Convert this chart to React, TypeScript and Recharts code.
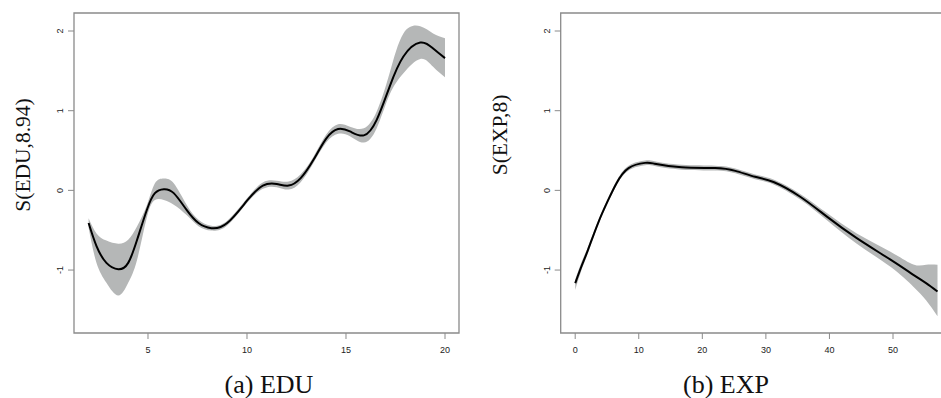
import React from 'react';
import { ComposedChart, Area, Line, XAxis, YAxis, ReferenceArea } from 'recharts';

// (a) EDU smooth term with its confidence band
const eduX = [2, 2.4, 2.9, 3.5, 4.0, 4.45, 4.95, 5.35, 5.8, 6.3, 6.95, 7.55, 8.2, 9.0, 10.0, 10.8, 11.5, 12.1, 12.7, 13.35, 14.0, 14.6, 15.2, 15.9, 16.55, 17.2, 17.9, 18.75, 19.4, 20];
const eduFit = [-0.41, -0.7, -0.91, -0.99, -0.91, -0.62, -0.24, -0.035, 0.015, -0.035, -0.245, -0.41, -0.475, -0.41, -0.13, 0.06, 0.08, 0.06, 0.15, 0.38, 0.65, 0.77, 0.74, 0.69, 0.885, 1.3, 1.68, 1.855, 1.78, 1.66];
const eduLo = [-0.47, -0.91, -1.16, -1.32, -1.16, -0.87, -0.33, -0.12, -0.12, -0.18, -0.31, -0.45, -0.505, -0.44, -0.16, 0.02, 0.04, 0.01, 0.1, 0.34, 0.6, 0.71, 0.68, 0.6, 0.78, 1.2, 1.47, 1.65, 1.55, 1.42];
const eduHi = [-0.35, -0.54, -0.63, -0.67, -0.62, -0.45, -0.18, 0.09, 0.15, 0.09, -0.18, -0.37, -0.445, -0.38, -0.1, 0.1, 0.12, 0.11, 0.2, 0.42, 0.7, 0.83, 0.8, 0.78, 0.99, 1.47, 1.97, 2.06, 1.97, 1.91];

// (b) EXP smooth term with its confidence band
const expX = [0, 1, 2, 3.6, 5.2, 6.5, 8.4, 11, 12.5, 16.75, 22, 25.2, 28.3, 31.2, 35.4, 39.6, 44.3, 49.6, 53.2, 55.2, 57];
const expFit = [-1.165, -0.95, -0.75, -0.41, -0.12, 0.09, 0.28, 0.345, 0.335, 0.29, 0.28, 0.245, 0.17, 0.105, -0.08, -0.33, -0.6, -0.87, -1.06, -1.165, -1.27];
const expLo = [-1.25, -1.0, -0.79, -0.44, -0.15, 0.06, 0.25, 0.315, 0.305, 0.26, 0.25, 0.215, 0.14, 0.075, -0.115, -0.375, -0.67, -0.96, -1.21, -1.38, -1.58];
const expHi = [-1.12, -0.9, -0.71, -0.38, -0.09, 0.12, 0.31, 0.375, 0.365, 0.32, 0.31, 0.275, 0.2, 0.135, -0.045, -0.285, -0.54, -0.77, -0.93, -0.935, -0.935];

const eduTicks = [5, 10, 15, 20];
const expTicks = [0, 10, 20, 30, 40, 50];
const yTicks = [-1, 0, 1, 2];
const Y_DOMAIN: [number, number] = [-1.79, 2.226];

const BOX = '#8a8a8a';
const BAND = '#b5b7b7';
const SANS = '"Liberation Sans", Arial, sans-serif';
const SERIF = '"Liberation Serif", "Times New Roman", serif';

function buildRows(xs: number[], fit: number[], lo: number[], hi: number[]) {
  return xs.map((x, i) => ({ x, fit: fit[i], band: [lo[i], hi[i]] }));
}

function YTick(props: any) {
  const { x, y, payload } = props;
  const bx = x - 3;
  return (
    <text x={bx} y={y} transform={`rotate(-90 ${bx} ${y})`} textAnchor="middle"
      fontSize={9} fontFamily={SANS} fill="#222">
      {payload.value}
    </text>
  );
}

interface PanelProps {
  left: number;
  width: number;
  marginLeft: number;
  marginRight: number;
  xDomain: [number, number];
  xTicks: number[];
  rows: { x: number; fit: number; band: number[] }[];
}

function Panel({ left, width, marginLeft, marginRight, xDomain, xTicks, rows }: PanelProps) {
  return (
    <div style={{ position: 'absolute', left, top: 0 }}>
      <ComposedChart width={width} height={398} data={rows}
        margin={{ top: 13, right: marginRight, bottom: 35, left: marginLeft }}>
        <XAxis type="number" dataKey="x" domain={xDomain} ticks={xTicks} allowDataOverflow
          height={30} tickSize={6} tickMargin={8} axisLine={false}
          tickLine={{ stroke: BOX }} tick={{ fontSize: 9, fontFamily: SANS, fill: '#222' }} />
        <YAxis type="number" domain={Y_DOMAIN} ticks={yTicks} allowDataOverflow width={20}
          tickSize={6} axisLine={false} tickLine={{ stroke: BOX }} tick={<YTick />} />
        <Area type="natural" dataKey="band" fill={BAND} fillOpacity={1} stroke="none"
          isAnimationActive={false} />
        <Line type="natural" dataKey="fit" stroke="#000" strokeWidth={2} dot={false}
          isAnimationActive={false} />
        <ReferenceArea x1={xDomain[0]} x2={xDomain[1]} y1={Y_DOMAIN[0]} y2={Y_DOMAIN[1]}
          fill="none" fillOpacity={0} stroke={BOX} strokeWidth={1.3} ifOverflow="visible" />
      </ComposedChart>
    </div>
  );
}

export default function App() {
  const eduRows = buildRows(eduX, eduFit, eduLo, eduHi);
  const expRows = buildRows(expX, expFit, expLo, expHi);

  return (
    <div style={{ position: 'absolute', left: 0, top: 0, width: 941, height: 398, overflow: 'hidden', background: '#fff' }}>
      <Panel left={0} width={470} marginLeft={54} marginRight={11}
        xDomain={[1.263, 20.707]} xTicks={eduTicks} rows={eduRows} />
      <Panel left={470} width={490} marginLeft={70.7} marginRight={8}
        xDomain={[-2.28, 59.28]} xTicks={expTicks} rows={expRows} />
      <svg width={941} height={398} style={{ position: 'absolute', left: 0, top: 0, pointerEvents: 'none' }}>
        <text x={30} y={155} transform="rotate(-90 30 155)" textAnchor="middle"
          fontSize={21.5} fontFamily={SERIF} fill="#111">S(EDU,8.94)</text>
        <text x={507} y={135} transform="rotate(-90 507 135)" textAnchor="middle"
          fontSize={21.5} fontFamily={SERIF} fill="#111">S(EXP,8)</text>
        <text x={269} y={393} textAnchor="middle" fontSize={26} fontFamily={SERIF} fill="#111">(a) EDU</text>
        <text x={726} y={393} textAnchor="middle" fontSize={26} fontFamily={SERIF} fill="#111">(b) EXP</text>
      </svg>
    </div>
  );
}
